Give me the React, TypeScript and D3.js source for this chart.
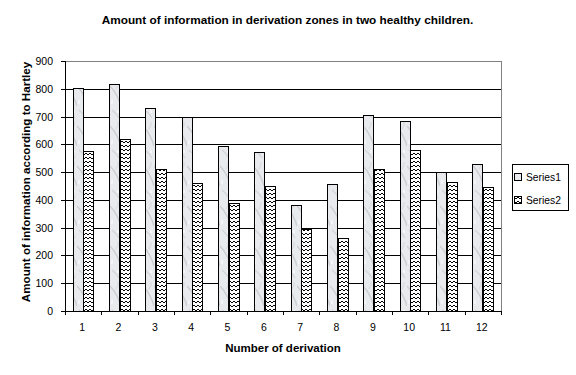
import React from "react";
import * as d3 from "d3";

const categories = ["1", "2", "3", "4", "5", "6", "7", "8", "9", "10", "11", "12"];
const series1 = [802, 817, 730, 698, 593, 571, 380, 456, 704, 683, 499, 528];
const series2 = [576, 618, 510, 460, 388, 449, 296, 262, 510, 578, 463, 446];
const seriesNames = ["Series1", "Series2"];
const yTicks = [0, 100, 200, 300, 400, 500, 600, 700, 800, 900];

const W = 576, H = 375;
const M = { left: 65, top: 61, right: 501, bottom: 311 };

export default function App() {
  const x = d3.scaleBand<string>().domain(categories).range([M.left, M.right]).paddingInner(0).paddingOuter(0);
  const y = d3.scaleLinear().domain([0, 900]).range([M.bottom, M.top]);
  const bw = x.bandwidth() / 3.5;
  const font = "'Liberation Sans', Arial, sans-serif";
  const data = [series1, series2];
  const fills = ["url(#marble)", "url(#zigzag)"];

  return (
    <svg width={W} height={H} style={{ display: "block", position: "absolute", left: 0, top: 0 }} fontFamily={font}>
      <defs>
        <pattern id="marble" patternUnits="userSpaceOnUse" width="11" height="40">
          <rect width="11" height="40" fill="#e9eaed" />
          <path d="M0,6 Q4,10 7,16 T11,26" stroke="#cdced2" strokeWidth="1.5" fill="none" />
          <path d="M2,30 Q6,33 9,38" stroke="#d3d4d7" strokeWidth="1.2" fill="none" />
          <path d="M8,2 Q9,5 6,9" stroke="#d6d7da" strokeWidth="1" fill="none" />
          <rect x="1" y="20" width="2" height="4" fill="#f4f5f7" />
          <rect x="7" y="30" width="2" height="3" fill="#f5f6f8" />
        </pattern>
        <pattern id="zigzag" patternUnits="userSpaceOnUse" width="4" height="4">
          <rect width="4" height="4" fill="#ffffff" />
          <path d="M0,3 L2,1 L4,3" stroke="#000" strokeWidth="1" fill="none" />
        </pattern>
      </defs>
      <rect width={W} height={H} fill="#fff" />
      <text x={W / 2 - 0.5} y={24} textAnchor="middle" fontSize={11.8} fontWeight="bold">
        Amount of information in derivation zones in two healthy children.
      </text>
      {/* plot border top/right gray */}
      <line x1={M.left} x2={M.right} y1={M.top + 0.5} y2={M.top + 0.5} stroke="#808080" />
      <line x1={M.right + 0.5} x2={M.right + 0.5} y1={M.top} y2={M.bottom} stroke="#808080" />
      {yTicks.filter(t => t > 0 && t < 900).map(t => (
        <line key={t} x1={M.left} x2={M.right} y1={Math.round(y(t)) + 0.5} y2={Math.round(y(t)) + 0.5} stroke="#000" />
      ))}
      {categories.map((c, i) => (
        <g key={c}>
          {data.map((s, k) => {
            const x0 = (x(c) as number) + bw * 0.75 + k * bw;
            const yt = y(s[i]);
            return (
              <rect key={k} x={Math.round(x0) + 0.5} y={Math.round(yt) + 0.5} width={Math.round(bw)} height={Math.round(M.bottom - yt)}
                fill={fills[k]} stroke="#000" strokeWidth={1} />
            );
          })}
        </g>
      ))}
      {/* axes */}
      <line x1={M.left + 0.5} x2={M.left + 0.5} y1={M.top} y2={M.bottom} stroke="#000" />
      <line x1={M.left} x2={M.right + 1} y1={M.bottom + 0.5} y2={M.bottom + 0.5} stroke="#000" />
      {yTicks.map(t => (
        <g key={t}>
          <line x1={M.left - 4} x2={M.left} y1={Math.round(y(t)) + 0.5} y2={Math.round(y(t)) + 0.5} stroke="#000" />
          <text x={53} y={y(t) + 4} textAnchor="end" fontSize={10.5}>{t}</text>
        </g>
      ))}
      {categories.map((c, i) => (
        <g key={c}>
          <line x1={Math.round(x(c) as number) + 0.5} x2={Math.round(x(c) as number) + 0.5} y1={M.bottom} y2={M.bottom + 4} stroke="#000" />
          <text x={(x(c) as number) + x.bandwidth() / 2 - 1} y={331} textAnchor="middle" fontSize={10.5}>{c}</text>
        </g>
      ))}
      <line x1={M.right + 0.5} x2={M.right + 0.5} y1={M.bottom} y2={M.bottom + 4} stroke="#000" />
      <text x={(M.left + M.right) / 2} y={352} textAnchor="middle" fontSize={11.5} fontWeight="bold">Number of derivation</text>
      <text transform={`translate(30,182) rotate(-90)`} textAnchor="middle" fontSize={11.6} fontWeight="bold">
        Amount of information according to Hartley
      </text>
      {/* legend */}
      <rect x={512.5} y={164.5} width={56} height={46} fill="#fff" stroke="#000" />
      {seriesNames.map((n, k) => (
        <g key={n}>
          <rect x={514.5} y={173.5 + k * 23} width={7} height={7} fill={fills[k]} stroke="#000" />
          <text x={526} y={181 + k * 23} fontSize={10.3}>{n}</text>
        </g>
      ))}
    </svg>
  );
}
